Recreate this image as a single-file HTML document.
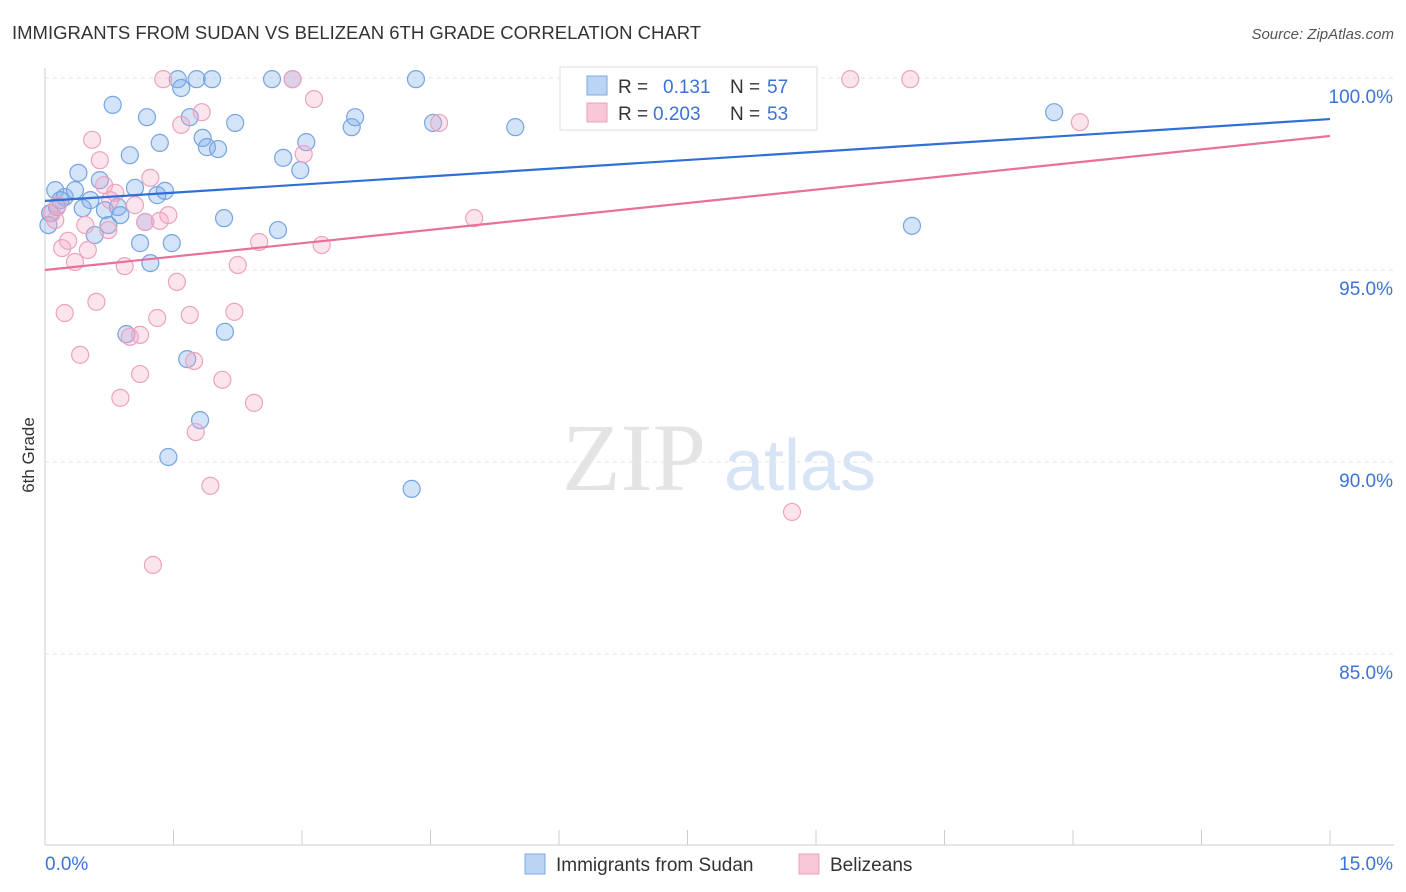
<!DOCTYPE html>
<html><head><meta charset="utf-8">
<style>
body{margin:0;background:#fff;font-family:"Liberation Sans",sans-serif;}
svg{display:block}
</style></head><body>
<svg id="chart" width="1406" height="892" xmlns="http://www.w3.org/2000/svg">
<text x="12" y="39" font-size="18.5" fill="#333">IMMIGRANTS FROM SUDAN VS BELIZEAN 6TH GRADE CORRELATION CHART</text>
<text x="1394" y="39" font-size="15" fill="#555" font-style="italic" text-anchor="end">Source: ZipAtlas.com</text>
<text x="34" y="455" font-size="17" fill="#333" text-anchor="middle" transform="rotate(-90 34 455)">6th Grade</text>
<g>
<text x="634" y="490" font-size="96" fill="#e4e4e4" font-family="Liberation Serif,serif" text-anchor="middle">ZIP</text>
<text x="800" y="490" font-size="72" fill="#d6e4f5" text-anchor="middle">atlas</text>
</g>
<g id="grid"></g>
<g id="axes"></g>
<g id="points"></g>
<g id="trends"></g>
<g>
<rect x="560" y="67" width="257" height="63" fill="#fff" stroke="#ddd"/>
<rect x="587" y="76" width="20" height="19" fill="#bcd4f4" stroke="#7aa7e4"/>
<rect x="587" y="103" width="20" height="19" fill="#f8c8d8" stroke="#eca0bc"/>
<text x="618" y="93" font-size="19" fill="#333">R = </text><text x="663" y="93" font-size="19" fill="#3b73d6">0.131</text>
<text x="730" y="93" font-size="19" fill="#333">N = </text><text x="767" y="93" font-size="19" fill="#3b73d6">57</text>
<text x="618" y="120" font-size="19" fill="#333">R = </text><text x="653" y="120" font-size="19" fill="#3b73d6">0.203</text>
<text x="730" y="120" font-size="19" fill="#333">N = </text><text x="767" y="120" font-size="19" fill="#3b73d6">53</text>
</g>
<g>
<rect x="525" y="854" width="20" height="20" fill="#bcd4f4" stroke="#7aa7e4"/>
<text x="556" y="871" font-size="19" fill="#333">Immigrants from Sudan</text>
<rect x="799" y="854" width="20" height="20" fill="#f8c8d8" stroke="#eca0bc"/>
<text x="830" y="871" font-size="19" fill="#333">Belizeans</text>
</g>
</svg>
<script>
const yTicks=[100,95,90,85];
const xTickLabels=["0.0%","15.0%"];
const blueX=[0.12,0.23,0.35,0.14,0.06,0.18,0.04,0.39,0.44,0.53,0.58,0.64,0.70,0.74,0.79,0.85,0.88,0.99,1.05,1.11,1.17,1.19,1.23,1.31,1.34,1.40,1.48,1.55,1.59,1.69,1.77,1.84,1.89,1.95,2.02,2.09,2.10,2.22,1.66,1.81,1.44,0.95,2.65,2.72,2.78,2.89,2.98,3.05,3.58,3.62,4.33,4.28,4.53,5.49,10.12,11.78];
const blueY=[97.08,96.9,97.08,96.64,96.48,96.82,96.17,97.53,96.61,96.82,95.91,97.34,96.56,96.17,99.30,96.64,96.43,97.99,97.14,95.70,96.25,98.98,95.18,96.95,98.31,97.06,95.70,99.97,99.74,98.98,99.97,98.44,98.20,99.97,98.15,96.35,93.39,98.83,92.68,91.09,90.13,93.33,99.97,96.04,97.92,99.97,97.60,98.33,98.72,98.98,99.97,89.30,98.83,98.72,96.15,99.11];
const pinkX=[0.08,0.15,0.20,0.23,0.27,0.35,0.41,0.47,0.50,0.55,0.60,0.64,0.69,0.74,0.82,0.88,0.93,0.99,1.05,1.11,1.17,1.23,1.26,1.31,1.34,1.38,1.44,1.54,1.59,1.69,1.74,1.76,1.83,1.93,2.07,2.21,2.25,2.44,2.50,2.89,3.02,3.14,3.23,4.60,5.01,8.72,9.40,10.10,12.08,0.12,0.76,1.11];
const pinkY=[96.48,96.69,95.57,93.88,95.76,95.21,92.79,96.17,95.52,98.39,94.17,97.86,97.21,96.04,97.01,91.67,95.10,93.26,96.69,92.29,96.25,97.40,87.32,93.75,96.28,99.97,96.43,94.69,98.78,93.83,92.63,90.78,99.11,89.38,92.14,93.91,95.13,91.54,95.73,99.97,98.02,99.45,95.65,98.83,96.35,88.70,99.97,99.97,98.85,96.30,96.82,93.31];
const blueTrend=[96.80,98.93];
const pinkTrend=[95.0,98.49];
const NS="http://www.w3.org/2000/svg";
const sx=v=>45+v/15*1285;
const sy=v=>78+(100-v)*38.4;
function mk(t,a,p){const e=document.createElementNS(NS,t);for(const k in a)e.setAttribute(k,a[k]);p.appendChild(e);return e;}
const grid=document.getElementById('grid'),axes=document.getElementById('axes'),pts=document.getElementById('points'),tr=document.getElementById('trends');
yTicks.forEach(v=>{
 const l=mk('line',{x1:45,x2:1394,y1:sy(v),y2:sy(v),stroke:'#e6e6e6','stroke-dasharray':'4,4'},grid);
 
 
 const t=mk('text',{x:1393,y:sy(v)+25,'font-size':19,fill:'#3b73d6','text-anchor':'end'},axes);
 t.textContent=v.toFixed(1)+'%';
 
 
});
const xa=mk('line',{x1:45,x2:1394,y1:845,y2:845,stroke:'#ccc'},axes);


const ya=mk('line',{x1:45,x2:45,y1:68,y2:845,stroke:'#ccc'},axes);


for(let i=0;i<=10;i++){
 const tk=mk('line',{x1:sx(i*1.5),x2:sx(i*1.5),y1:830,y2:845,stroke:'#ccc'},axes);
 
 
}
[[0,'start',45],[15,'end',1393]].forEach((d,i)=>{
 const t=mk('text',{x:d[2],y:870,'font-size':19,fill:'#3b73d6','text-anchor':d[1]},axes);
 t.textContent=xTickLabels[i];
 
 
});
function dots(X,Y,fill,stroke,name){
 X.forEach((x,i)=>{
  const c=mk('circle',{cx:sx(x),cy:sy(Y[i]),r:8.5,fill:fill,stroke:stroke,'stroke-width':1.2},pts);
  
  
 });
}
dots(blueX,blueY,'rgba(130,175,235,0.35)','#76a4e2','point-sudan');
dots(pinkX,pinkY,'rgba(245,165,195,0.3)','#eba3bf','point-belizean');
const bl=mk('line',{x1:sx(0),y1:sy(blueTrend[0]),x2:sx(15),y2:sy(blueTrend[1]),stroke:'#2f6fd6','stroke-width':2.2},tr);


const pl=mk('line',{x1:sx(0),y1:sy(pinkTrend[0]),x2:sx(15),y2:sy(pinkTrend[1]),stroke:'#e8709a','stroke-width':2.2},tr);


</script>
</body></html>
